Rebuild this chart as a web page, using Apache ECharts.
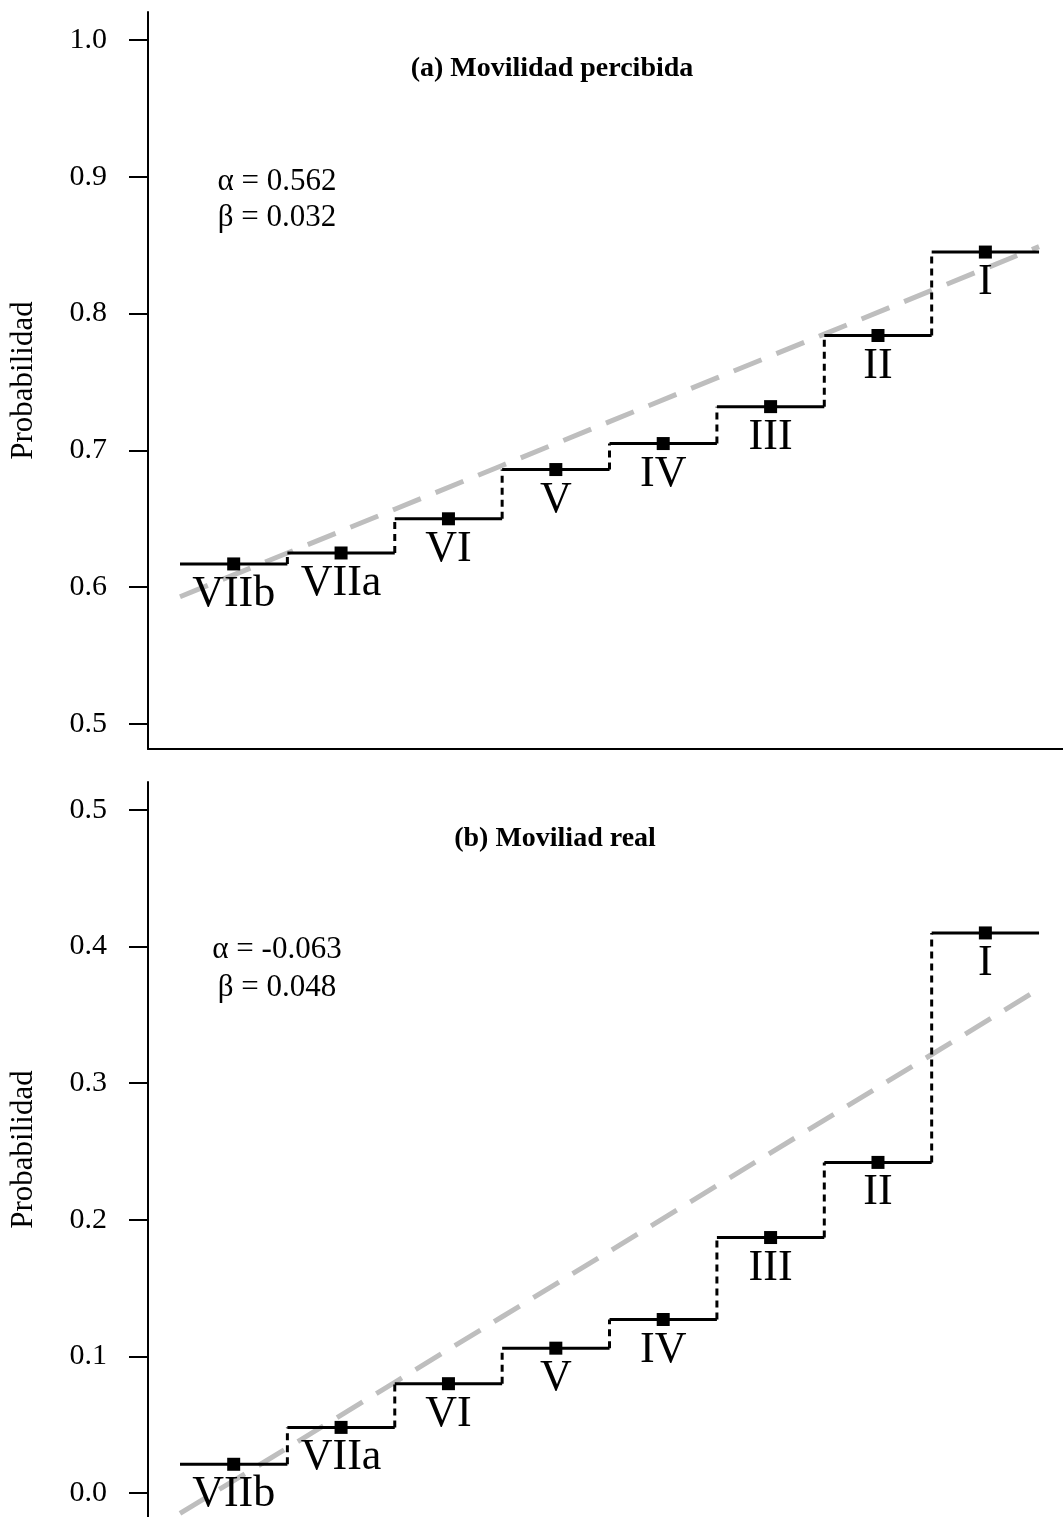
<!DOCTYPE html>
<html>
<head>
<meta charset="utf-8">
<script src="https://cdn.jsdelivr.net/npm/echarts@6/dist/echarts.min.js"></script>
<style>
html,body{margin:0;padding:0;background:#fff;}
#chart{width:1063px;height:1517px;}
</style>
</head>
<body>
<div id="chart"></div>
<script>
// ---- data ----
var categories = ['VIIb','VIIa','VI','V','IV','III','II','I'];
var perceived  = [0.617, 0.625, 0.650, 0.686, 0.705, 0.732, 0.784, 0.845];
var realMob    = [0.021, 0.048, 0.080, 0.106, 0.127, 0.187, 0.242, 0.410];
// fitted dashed line, read at the step boundaries (left edge of VIIb .. right edge of I)
var fitPerceived = [0.593, 0.625, 0.657, 0.689, 0.721, 0.753, 0.785, 0.817, 0.849];
var fitReal      = [-0.015, 0.033, 0.081, 0.129, 0.177, 0.225, 0.273, 0.321, 0.369];
var ticksTop    = [0.5, 0.6, 0.7, 0.8, 0.9, 1.0];
var ticksBottom = [0.0, 0.1, 0.2, 0.3, 0.4, 0.5];
var titles = ['(a) Movilidad percibida', '(b) Moviliad real'];
var coefTop    = ['\u03B1 = 0.562', '\u03B2 = 0.032'];
var coefBottom = ['\u03B1 = -0.063', '\u03B2 = 0.048'];
var yName = 'Probabilidad';

var FONT = '"Liberation Serif","Times New Roman",Times,serif';

function stepSegments(vals){
  var d = [];
  vals.forEach(function(v,i){ d.push([i+1, v]); d.push([i+2, v]); d.push([i+2, '-']); });
  return d;
}
function connectors(vals){
  var d = [];
  for (var i=0;i<vals.length-1;i++){ d.push([i+2, vals[i]]); d.push([i+2, vals[i+1]]); d.push([i+2,'-']); }
  return d;
}
function points(vals){ return vals.map(function(v,i){ return {value:[i+1.5, v], name: categories[i]}; }); }
function fitPts(vals){ return vals.map(function(v,i){ return [i+1, v]; }); }

function yAxisDef(gi, min, max, ticks){
  return {
    type:'value', gridIndex:gi, min:min, max:max,
    name: yName, nameLocation:'middle', nameGap:109, nameRotate:90,
    nameTextStyle:{fontFamily:FONT, fontSize:31, color:'#000'},
    axisLine:{show:true, lineStyle:{color:'#000', width:2}},
    axisTick:{show:true, length:19, lineStyle:{color:'#000', width:2}, customValues:ticks},
    axisLabel:{show:true, margin:41, fontFamily:FONT, fontSize:30, color:'#000',
      customValues:ticks, formatter:function(v){ return Number(v).toFixed(1); }},
    splitLine:{show:false}
  };
}
function xAxisDef(gi, showLine){
  return {
    type:'value', gridIndex:gi, min:0.702, max:9.223,
    axisLine:{show:showLine, onZero:false, lineStyle:{color:'#000', width:2}},
    axisTick:{show:false}, axisLabel:{show:false}, splitLine:{show:false}
  };
}
function panelSeries(gi, vals, fit){
  return [
    {type:'line', xAxisIndex:gi, yAxisIndex:gi, data:fitPts(fit), showSymbol:false, z:1,
     lineStyle:{color:'#bebebe', width:5, type:[30,16]}, silent:true, animation:false},
    {type:'line', xAxisIndex:gi, yAxisIndex:gi, data:connectors(vals), showSymbol:false, z:2,
     lineStyle:{color:'#000', width:3, type:[7,5]}, silent:true, animation:false},
    {type:'line', xAxisIndex:gi, yAxisIndex:gi, data:stepSegments(vals), showSymbol:false, z:3,
     lineStyle:{color:'#000', width:3}, silent:true, animation:false},
    {type:'scatter', xAxisIndex:gi, yAxisIndex:gi, data:points(vals), symbol:'rect', symbolSize:13, z:4,
     itemStyle:{color:'#000', opacity:1}, animation:false, silent:true,
     label:{show:true, position:'bottom', distance:2, formatter:'{b}', fontFamily:FONT, fontSize:44, color:'#000', opacity:1}}
  ];
}

var chart = echarts.init(document.getElementById('chart'), null, {renderer:'canvas'});
var option = {
  backgroundColor:'#fff',
  animation:false,
  grid:[
    {left:147, right:0, top:12, height:737},
    {left:147, right:0, top:782, bottom:0}
  ],
  xAxis:[xAxisDef(0,true), xAxisDef(1,false)],
  yAxis:[yAxisDef(0, 0.4817, 1.0205, ticksTop), yAxisDef(1, -0.0176, 0.5205, ticksBottom)],
  series: panelSeries(0, perceived, fitPerceived).concat(panelSeries(1, realMob, fitReal)),
  graphic:[
    {type:'text', x:552, y:69, style:{text:titles[0], font:'bold 28px '+FONT, fill:'#000', align:'center', verticalAlign:'middle'}},
    {type:'text', x:277, y:182, style:{text:coefTop[0], font:'31px '+FONT, fill:'#000', align:'center', verticalAlign:'middle'}},
    {type:'text', x:277, y:218, style:{text:coefTop[1], font:'31px '+FONT, fill:'#000', align:'center', verticalAlign:'middle'}},
    {type:'text', x:555, y:839, style:{text:titles[1], font:'bold 28px '+FONT, fill:'#000', align:'center', verticalAlign:'middle'}},
    {type:'text', x:277, y:950, style:{text:coefBottom[0], font:'31px '+FONT, fill:'#000', align:'center', verticalAlign:'middle'}},
    {type:'text', x:277, y:988, style:{text:coefBottom[1], font:'31px '+FONT, fill:'#000', align:'center', verticalAlign:'middle'}}
  ]
};
chart.setOption(option);
</script>
</body>
</html>
